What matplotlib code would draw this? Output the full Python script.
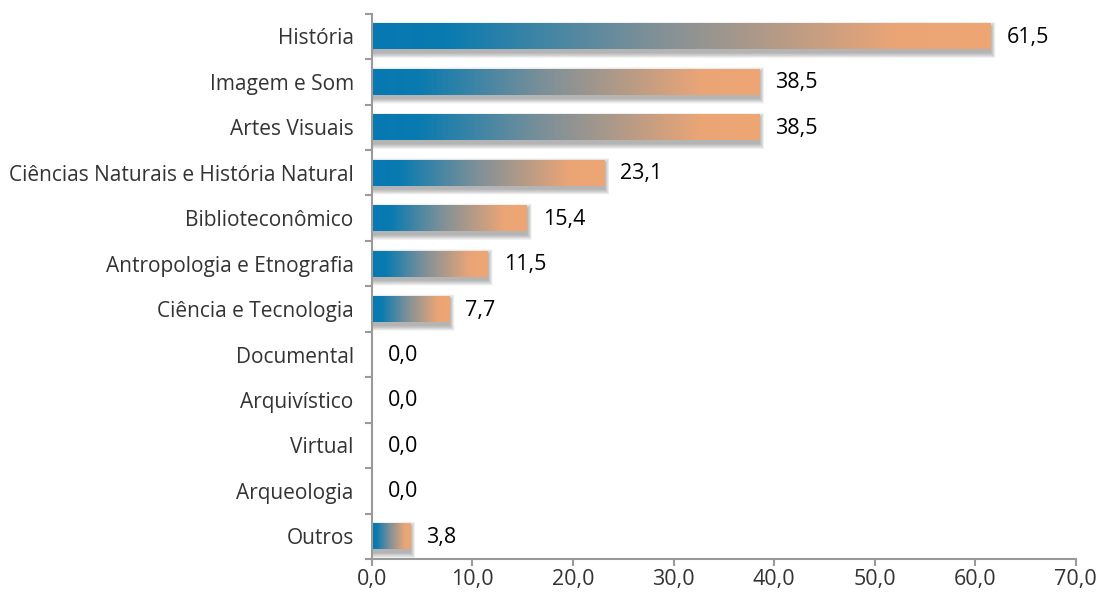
import matplotlib.pyplot as plt
import numpy as np
from matplotlib.colors import LinearSegmentedColormap
from matplotlib.patches import Rectangle

categories = ["História", "Imagem e Som", "Artes Visuais",
              "Ciências Naturais e História Natural", "Biblioteconômico",
              "Antropologia e Etnografia", "Ciência e Tecnologia",
              "Documental", "Arquivístico", "Virtual", "Arqueologia", "Outros"]
values = [61.5, 38.5, 38.5, 23.1, 15.4, 11.5, 7.7, 0.0, 0.0, 0.0, 0.0, 3.8]
x_ticks = [0, 10, 20, 30, 40, 50, 60, 70]

plt.rcParams['font.family'] = ['Open Sans', 'DejaVu Sans']

fig = plt.figure(figsize=(11, 5.96), dpi=100)
ax = fig.add_axes([0.338, 0.062, 0.640, 0.915])

grad = LinearSegmentedColormap.from_list(
    "bar", [(0, "#0778b2"), (0.12, "#0a7bb0"), (0.45, "#7e9098"),
            (0.85, "#eba576"), (1, "#eea674")])
ramp = np.linspace(0, 1, 256).reshape(1, -1)

h = 0.57
n = len(categories)
for i, (cat, v) in enumerate(zip(categories, values)):
    y = n - 1 - i
    if v > 0:
        # soft drop shadow, built from stacked translucent rectangles
        for k in range(16):
            gx = 0.45 - k * 0.03
            gy = 0.12 - k * 0.008
            ax.add_patch(Rectangle((0.08 - gx, y - h / 2 - 0.08 - gy),
                                   v + 2 * gx, h + 2 * gy,
                                   facecolor="#000000", alpha=0.018,
                                   edgecolor="none", zorder=1))
        ax.imshow(ramp, cmap=grad, aspect="auto", zorder=2,
                  extent=(0, v, y - h / 2, y + h / 2), interpolation="bilinear")
    ax.text(v + 1.6, y - 0.02, f"{v:.1f}".replace(".", ","), va="center",
            ha="left", fontsize=15.5, color="#000000", zorder=3)

ax.set_xlim(0, 70)
ax.set_ylim(-0.5, n - 0.5)
ax.set_xticks(x_ticks)
ax.set_xticklabels([f"{t:.1f}".replace(".", ",") for t in x_ticks],
                   fontsize=15.5, color="#333333")
ax.set_yticks(range(n))
ax.set_yticklabels(categories[::-1], fontsize=15, color="#333333")
ax.set_yticks(np.arange(-0.5, n, 1), minor=True)
ax.tick_params(axis="y", which="major", length=0, pad=13)
ax.tick_params(axis="y", which="minor", length=5, color="#9a9a9a", width=1.5)
ax.tick_params(axis="x", length=5, color="#9a9a9a", width=1.5, pad=2)

for s in ["top", "right"]:
    ax.spines[s].set_visible(False)
for s in ["left", "bottom"]:
    ax.spines[s].set_color("#9a9a9a")
    ax.spines[s].set_linewidth(1.5)

fig.savefig("out.png", dpi=100)
